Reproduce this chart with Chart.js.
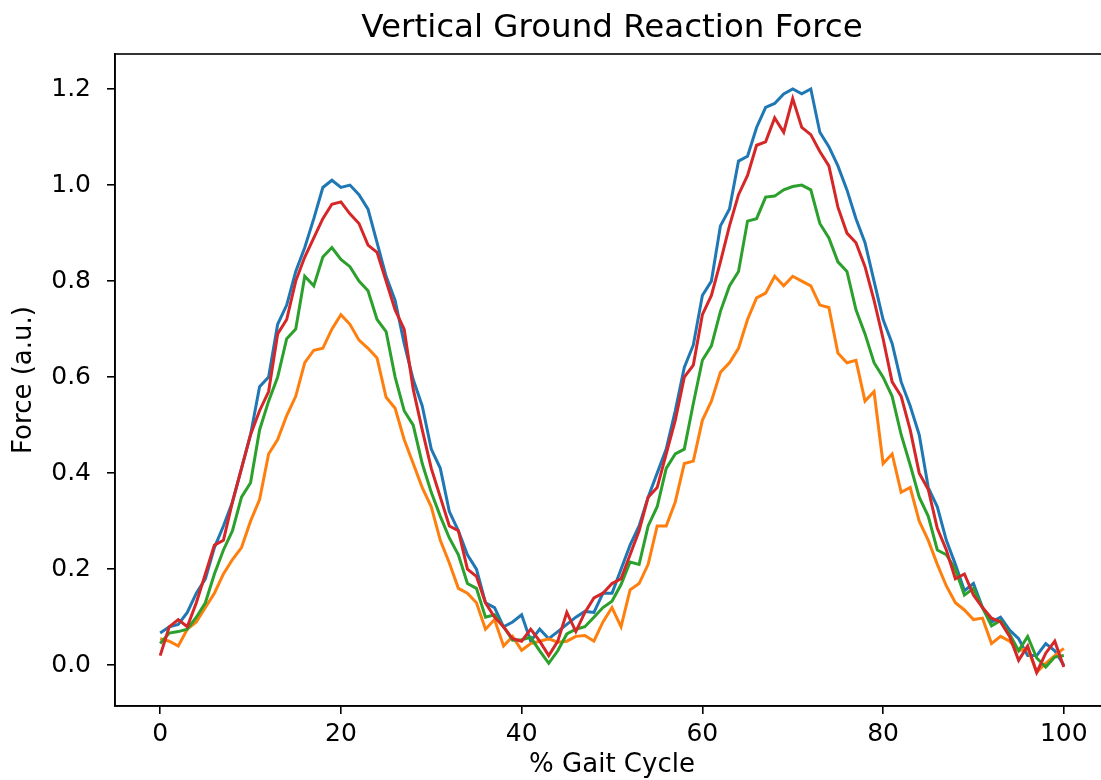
<!DOCTYPE html>
<html>
<head>
<meta charset="utf-8">
<script src="https://cdn.jsdelivr.net/npm/chart.js@4.4.1/dist/chart.umd.min.js"></script>
<style>
  html, body { margin: 0; padding: 0; background: #fff; overflow: hidden; }
  .chart-wrapp { position: relative; width: 1112px; height: 780px; }
</style>
</head>
<body>
<div class="chart-wrapp"><canvas id="grf"></canvas></div>
<script>
// % gait cycle, one sample per percent
const gaitPct = Array.from({ length: 101 }, (_, i) => i)

const forceBlue = [
  0.067, 0.08, 0.085, 0.11, 0.15, 0.18, 0.245, 0.29, 0.34, 0.41,
  0.48, 0.58, 0.6, 0.71, 0.75, 0.82, 0.87, 0.93, 0.995, 1.01,
  0.995, 1.0, 0.98, 0.95, 0.88, 0.81, 0.76, 0.67, 0.595, 0.54,
  0.45, 0.41, 0.32, 0.28, 0.23, 0.2, 0.13, 0.12, 0.08, 0.09,
  0.105, 0.05, 0.075, 0.055, 0.07, 0.085, 0.1, 0.112, 0.11, 0.15,
  0.15, 0.2, 0.25, 0.29, 0.35, 0.4, 0.45, 0.53, 0.62, 0.667,
  0.77, 0.8, 0.915, 0.95, 1.05, 1.06, 1.12, 1.162, 1.17, 1.19,
  1.2, 1.19, 1.2, 1.11, 1.08, 1.04, 0.99, 0.93, 0.88, 0.8,
  0.72, 0.67, 0.59, 0.54, 0.48, 0.37, 0.33, 0.26, 0.21, 0.155,
  0.17, 0.12, 0.09, 0.1, 0.073, 0.055, 0.02, 0.02, 0.045, 0.03,
  0.0,
]
const forceOrange = [
  0.055, 0.05, 0.04, 0.075, 0.09, 0.12, 0.15, 0.19, 0.22, 0.245,
  0.3, 0.345, 0.44, 0.47, 0.52, 0.56, 0.63, 0.656, 0.66, 0.7,
  0.73, 0.71, 0.677, 0.66, 0.64, 0.558, 0.535, 0.47, 0.42, 0.37,
  0.33, 0.26, 0.213, 0.16, 0.15, 0.13, 0.075, 0.095, 0.04, 0.06,
  0.031, 0.045, 0.05, 0.055, 0.048, 0.05, 0.06, 0.062, 0.05, 0.09,
  0.12, 0.08, 0.157, 0.17, 0.21, 0.29, 0.29, 0.34, 0.42, 0.425,
  0.51, 0.55, 0.61, 0.63, 0.66, 0.72, 0.765, 0.775, 0.81, 0.79,
  0.81, 0.8, 0.79, 0.75, 0.745, 0.65, 0.63, 0.635, 0.55, 0.57,
  0.42, 0.44, 0.36, 0.37, 0.3, 0.26, 0.21, 0.165, 0.13, 0.115,
  0.095, 0.098, 0.045, 0.06, 0.05, 0.03, 0.035, -0.015, 0.004, 0.02,
  0.035,
]
const forceGreen = [
  0.045, 0.067, 0.07, 0.075, 0.1, 0.13, 0.19, 0.24, 0.28, 0.35,
  0.38, 0.49, 0.55, 0.6, 0.68, 0.7, 0.81, 0.79, 0.85, 0.87,
  0.845, 0.83, 0.8, 0.78, 0.72, 0.695, 0.6, 0.53, 0.5, 0.42,
  0.36, 0.31, 0.265, 0.23, 0.17, 0.16, 0.1, 0.105, 0.08, 0.052,
  0.053, 0.058, 0.03, 0.004, 0.03, 0.065, 0.075, 0.08, 0.1, 0.12,
  0.133, 0.168, 0.215, 0.21, 0.29, 0.33, 0.41, 0.44, 0.45, 0.545,
  0.635, 0.665, 0.737, 0.79, 0.82, 0.925, 0.93, 0.975, 0.977, 0.99,
  0.997, 1.0, 0.99, 0.92, 0.89, 0.84, 0.82, 0.74, 0.69, 0.63,
  0.6, 0.56, 0.48, 0.417, 0.35, 0.31, 0.24, 0.23, 0.2, 0.146,
  0.16, 0.12, 0.082, 0.093, 0.065, 0.03, 0.06, 0.015, -0.004, 0.017,
  0.02,
]
const forceRed = [
  0.02, 0.08, 0.095, 0.08, 0.13, 0.19, 0.25, 0.26, 0.34, 0.41,
  0.48, 0.53, 0.57, 0.69, 0.72, 0.8, 0.85, 0.89, 0.93, 0.96,
  0.965, 0.94, 0.92, 0.875, 0.86, 0.8, 0.74, 0.7, 0.575, 0.49,
  0.41, 0.35, 0.29, 0.28, 0.2, 0.185, 0.13, 0.1, 0.08, 0.055,
  0.05, 0.075, 0.05, 0.02, 0.05, 0.11, 0.07, 0.11, 0.14, 0.15,
  0.17, 0.18, 0.23, 0.28, 0.35, 0.37, 0.44, 0.51, 0.6, 0.625,
  0.73, 0.77, 0.84, 0.915, 0.98, 1.02, 1.083, 1.09, 1.14, 1.11,
  1.18, 1.12, 1.105, 1.07, 1.04, 0.954, 0.9, 0.88, 0.83, 0.76,
  0.68, 0.59, 0.56, 0.49, 0.4, 0.366, 0.285, 0.24, 0.18, 0.19,
  0.146, 0.12, 0.098, 0.09, 0.06, 0.01, 0.04, -0.015, 0.025, 0.05,
  -0.004,
]

const xTicks = [0, 20, 40, 60, 80, 100]
const yTicks = [0, 0.2, 0.4, 0.6, 0.8, 1.0, 1.2]

// ========================= //

const toPoints = arr => arr.map((y, i) => ({ x: gaitPct[i], y }))
const tickFont = { family: 'DejaVu Sans', size: 25 }
const labelFont = { family: 'DejaVu Sans', size: 26 }

// black box round the plot, like matplotlib spines
const frame = {
  id: 'frame',
  afterDraw(chart) {
    const { ctx, chartArea: a } = chart
    ctx.save()
    ctx.strokeStyle = '#000'
    ctx.lineWidth = 1.6
    ctx.strokeRect(a.left, a.top, a.right - a.left, a.bottom - a.top)
    ctx.restore()
  },
}

const line = (data, color, order) => ({
  data: toPoints(data),
  borderColor: color,
  borderWidth: 3,
  pointRadius: 0,
  tension: 0,
  order,
})

new Chart(document.getElementById('grf'), {
  type: 'line',
  data: {
    datasets: [
      line(forceBlue, '#1f77b4', 4),
      line(forceOrange, '#ff7f0e', 3),
      line(forceGreen, '#2ca02c', 2),
      line(forceRed, '#d62728', 1),
    ],
  },
  options: {
    responsive: true,
    maintainAspectRatio: false,
    animation: false,
    layout: { padding: { right: 3 } },
    plugins: {
      legend: { display: false },
      tooltip: { enabled: false },
      title: {
        display: true,
        text: 'Vertical Ground Reaction Force',
        color: '#000',
        fullSize: false,
        font: { family: 'DejaVu Sans', size: 32.5, weight: 'normal', lineHeight: 1.2 },
        padding: { top: 9, bottom: 6 },
      },
    },
    scales: {
      x: {
        type: 'linear',
        min: -5,
        max: 105,
        afterBuildTicks: s => { s.ticks = xTicks.map(v => ({ value: v })) },
        afterFit: s => { s.height = 74 },
        ticks: { color: '#000', font: tickFont, padding: 5, maxRotation: 0 },
        grid: { drawOnChartArea: false, tickLength: 8, color: '#000', lineWidth: 1.6 },
        border: { color: '#000', width: 1.6 },
        title: { display: true, text: '% Gait Cycle', color: '#000', font: labelFont, padding: { top: 0, bottom: -1 } },
      },
      y: {
        min: -0.085,
        max: 1.273,
        afterBuildTicks: s => { s.ticks = yTicks.map(v => ({ value: v })) },
        afterFit: s => { s.width = 115 },
        ticks: { color: '#000', font: tickFont, padding: 16, callback: v => v.toFixed(1) },
        grid: { drawOnChartArea: false, tickLength: 8, color: '#000', lineWidth: 1.6 },
        border: { color: '#000', width: 1.6 },
        title: { display: true, text: 'Force (a.u.)', color: '#000', font: labelFont, padding: { top: 9, bottom: 0 } },
      },
    },
  },
  plugins: [frame],
})
</script>
</body>
</html>
